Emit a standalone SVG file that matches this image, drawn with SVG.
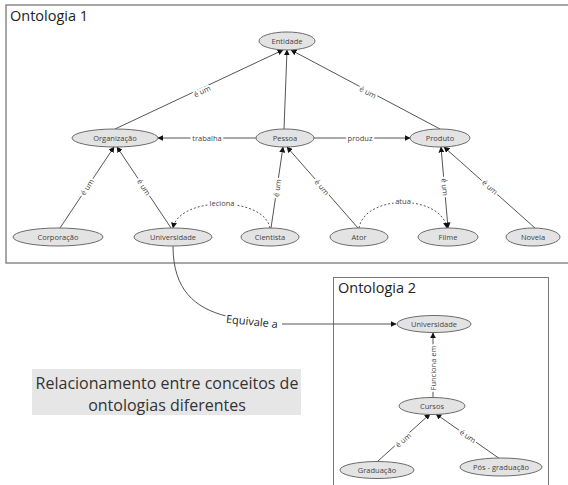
<svg xmlns="http://www.w3.org/2000/svg" width="568" height="485" viewBox="0 0 568 485">
<style>
.box{fill:none;}
.node ellipse{fill:#e3e3e3;stroke:#6a6a6a;stroke-width:1;}
.node text{font-family:"Open Sans","Noto Sans",sans-serif;font-size:7.5px;fill:#444;text-anchor:middle;dominant-baseline:central;}
.edge{fill:none;stroke:#555;stroke-width:1;}
.dash{stroke-dasharray:2,2;}
.lbl{font-family:"Open Sans","Noto Sans",sans-serif;font-size:7.5px;fill:#444;text-anchor:middle;dominant-baseline:central;stroke:#fff;stroke-width:4;paint-order:stroke;stroke-linejoin:round;}
.title{font-family:"Open Sans","Noto Sans",sans-serif;font-size:14.5px;fill:#222;}
.cap{font-family:"Open Sans","Noto Sans",sans-serif;font-size:16px;fill:#333;text-anchor:middle;}
</style>
<defs>
<marker id="arr" viewBox="0 0 10 10" refX="9" refY="5" markerWidth="6" markerHeight="6" orient="auto" markerUnits="userSpaceOnUse">
<path d="M0,0 L10,5 L0,10 z" fill="#111"/>
</marker>
<marker id="arrs" viewBox="0 0 10 10" refX="1" refY="5" markerWidth="6" markerHeight="6" orient="auto" markerUnits="userSpaceOnUse">
<path d="M10,0 L0,5 L10,10 z" fill="#111"/>
</marker>
</defs>
<g id="ontologia1">
<rect class="box" x="6" y="5" width="600" height="258" stroke="#8a8a8a" stroke-width="1.5"/>
<text class="title" x="10" y="21">Ontologia 1</text>
</g>
<g id="ontologia2">
<rect class="box" x="333.5" y="277.5" width="215" height="230" stroke="#777" stroke-width="1"/>
<text class="title" x="338" y="293">Ontologia 2</text>
</g>
<g id="caption">
<rect x="32" y="369" width="269" height="46" fill="#e6e6e6"/>
<text class="cap" x="167" y="389">Relacionamento entre conceitos de</text>
<text class="cap" x="167" y="411">ontologias diferentes</text>
</g>
<g id="connectors">
<path class="edge" d="M115,129 L283,50" marker-end="url(#arr)"/>
<path class="edge" d="M284,129 L287,50" marker-end="url(#arr)"/>
<path class="edge" d="M440,129 L291,50" marker-end="url(#arr)"/>
<path class="edge" d="M256,138 L158,138" marker-end="url(#arr)"/>
<path class="edge" d="M314,138 L410,138" marker-end="url(#arr)"/>
<path class="edge" d="M60,228 L114,147" marker-end="url(#arr)"/>
<path class="edge" d="M171,228 L117,147" marker-end="url(#arr)"/>
<path class="edge" d="M271,228 L283,147" marker-end="url(#arr)"/>
<path class="edge" d="M358,228 L287,147" marker-end="url(#arr)"/>
<path class="edge" d="M441,147 L448,228" marker-start="url(#arrs)" marker-end="url(#arr)"/>
<path class="edge" d="M535,228 L444,147" marker-end="url(#arr)"/>
<path class="edge dash" d="M270,228 C264,196 179,196 173,228" marker-end="url(#arr)"/>
<path class="edge dash" d="M359,228 C365,194 441,194 447,228" marker-end="url(#arr)"/>
<path class="edge" d="M173,246 C173,290 195,308 226,316"/>
<path class="edge" d="M282,324 L396,324" marker-end="url(#arr)"/>
<path class="edge" d="M433,397 L433,333" marker-end="url(#arr)"/>
<path class="edge" d="M378,461 L430,414" marker-end="url(#arr)"/>
<path class="edge" d="M500,459 L436,414" marker-end="url(#arr)"/>
<text class="lbl" transform="translate(202,91) rotate(-25)">é um</text>
<text class="lbl" transform="translate(368,92) rotate(28)">é um</text>
<text class="lbl" x="207" y="138">trabalha</text>
<text class="lbl" x="360" y="138">produz</text>
<text class="lbl" transform="translate(87,187) rotate(-56)">é um</text>
<text class="lbl" transform="translate(144,187) rotate(57)">é um</text>
<text class="lbl" transform="translate(277,188) rotate(-82)">é um</text>
<text class="lbl" transform="translate(322,187) rotate(50)">é um</text>
<text class="lbl" transform="translate(445,187) rotate(86)">é um</text>
<text class="lbl" transform="translate(490,187) rotate(42)">é um</text>
<text class="lbl" x="222" y="203">leciona</text>
<text class="lbl" x="403" y="201">atua</text>
<text class="lbl" transform="translate(433,368) rotate(-90)">Funciona em</text>
<text class="lbl" transform="translate(403,440) rotate(-40)">é um</text>
<text class="lbl" transform="translate(468,436) rotate(35)">é um</text>
<text class="lbl" style="font-size:11px;fill:#222;" transform="translate(252,321) rotate(6)">Equivale a</text>
</g>
<g id="n-entidade" class="node"><ellipse cx="287" cy="41" rx="28" ry="9"/><text x="287" y="41">Entidade</text></g>
<g id="n-organizacao" class="node"><ellipse cx="115" cy="138" rx="43" ry="9"/><text x="115" y="138">Organização</text></g>
<g id="n-pessoa" class="node"><ellipse cx="285" cy="138" rx="29" ry="9"/><text x="285" y="138">Pessoa</text></g>
<g id="n-produto" class="node"><ellipse cx="440" cy="138" rx="30" ry="9"/><text x="440" y="138">Produto</text></g>
<g id="n-corporacao" class="node"><ellipse cx="58" cy="237" rx="45" ry="9"/><text x="58" y="237">Corporação</text></g>
<g id="n-universidade" class="node"><ellipse cx="173" cy="237" rx="39" ry="9"/><text x="173" y="237">Universidade</text></g>
<g id="n-cientista" class="node"><ellipse cx="270" cy="237" rx="29" ry="9"/><text x="270" y="237">Cientista</text></g>
<g id="n-ator" class="node"><ellipse cx="359" cy="237" rx="29" ry="9"/><text x="359" y="237">Ator</text></g>
<g id="n-filme" class="node"><ellipse cx="448" cy="237" rx="30" ry="9"/><text x="448" y="237">Filme</text></g>
<g id="n-novela" class="node"><ellipse cx="533" cy="237" rx="27" ry="9"/><text x="533" y="237">Novela</text></g>
<g id="n-universidade2" class="node"><ellipse cx="434" cy="324" rx="37" ry="8.5"/><text x="434" y="324">Universidade</text></g>
<g id="n-cursos" class="node"><ellipse cx="432" cy="406" rx="33" ry="8.5"/><text x="432" y="406">Cursos</text></g>
<g id="n-graduacao" class="node"><ellipse cx="377" cy="470" rx="37" ry="8.5"/><text x="377" y="470">Graduação</text></g>
<g id="n-posgraduacao" class="node"><ellipse cx="501" cy="467" rx="41" ry="9"/><text x="501" y="467">Pós - graduação</text></g>
</svg>
